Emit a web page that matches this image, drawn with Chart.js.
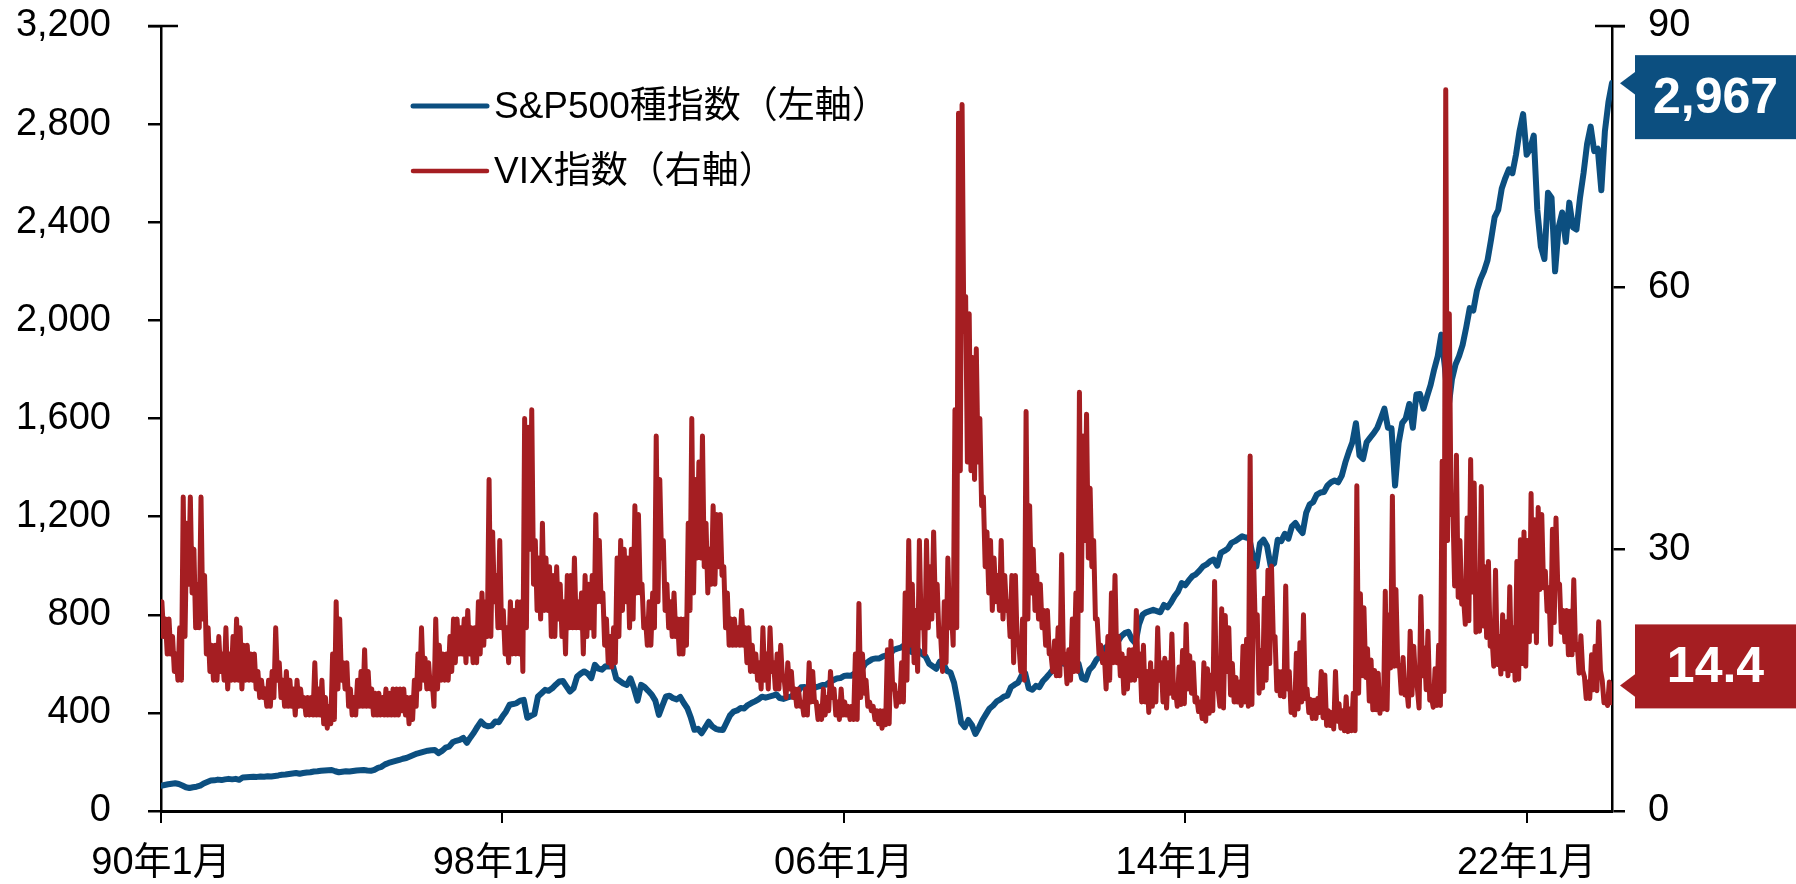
<!DOCTYPE html>
<html>
<head>
<meta charset="utf-8">
<script src="https://cdn.jsdelivr.net/npm/chart.js@4.4.1/dist/chart.umd.min.js"></script>
<style>
html,body{margin:0;padding:0;background:#ffffff;}
canvas{display:block;}
</style>
</head>
<body>
<canvas id="c" width="1796" height="884"></canvas>
<script>
// ---------- data ----------
const seriesNames = ['S&P500種指数（左軸）', 'VIX指数（右軸）'];
const xTickPositions = [0, 96, 192, 288, 384];
const xTickLabels = ['90年1月', '98年1月', '06年1月', '14年1月', '22年1月'];
const leftTickStep = 400;
const rightTickStep = 30;

// S&P500 (left axis), month-end values, Jan 1990 ... Jan 2024
const spValues = [
  103,106,109,111,113,110,104,97,94,97,99,103,
  112,118,124,125,128,126,129,131,129,131,127,137,
  138,139,140,139,141,140,142,141,143,145,148,149,
  151,153,155,152,155,157,158,161,162,164,165,166,
  167,162,158,160,162,161,163,165,166,167,165,164,
  168,176,180,190,196,200,204,208,213,216,222,228,
  234,238,242,246,248,249,236,245,258,262,280,286,
  290,298,278,300,320,344,365,350,345,348,365,362,
  385,405,433,436,440,450,453,380,388,395,467,480,
  494,490,500,515,528,530,508,487,500,548,560,569,
  560,542,596,580,576,590,589,596,540,530,520,514,
  541,500,450,514,505,490,474,450,392,430,467,470,
  460,455,465,440,419,380,331,335,317,340,364,345,
  335,331,330,360,390,405,410,420,418,432,440,447,
  455,466,462,466,470,476,460,457,462,466,475,485,
  504,505,500,495,504,508,514,515,525,533,540,542,
  550,552,551,560,571,575,600,610,619,622,622,630,
  634,640,657,662,666,676,672,648,650,655,640,630,
  600,590,580,609,600,571,565,523,447,360,342,371,
  351,314,340,371,395,418,430,447,455,466,470,505,
  515,523,552,562,500,494,510,505,530,545,562,580,
  596,605,600,610,612,616,600,541,535,575,590,616,
  630,660,671,665,640,690,712,725,730,700,684,760,
  800,810,815,820,815,810,840,830,850,875,895,929,
  920,940,957,965,980,997,1005,1018,1025,1000,1052,1060,
  1070,1093,1100,1110,1120,1115,1113,1040,997,1090,1106,1080,
  1000,1010,1106,1100,1130,1110,1160,1174,1150,1133,1215,1250,
  1260,1290,1298,1300,1327,1340,1347,1340,1366,1420,1464,1503,
  1581,1450,1435,1503,1522,1540,1562,1600,1640,1562,1560,1327,
  1500,1581,1600,1659,1562,1698,1700,1640,1690,1737,1800,1854,
  1942,1810,1640,1760,1820,1854,1900,1971,2050,2040,2120,2167,
  2200,2245,2330,2421,2450,2538,2580,2616,2600,2675,2772,2841,
  2675,2700,2753,2450,2300,2250,2520,2500,2200,2380,2440,2320,
  2480,2380,2370,2500,2600,2720,2790,2690,2700,2530,2770,2890,
  2967
];

// VIX (right axis): monthly high / low of daily closes, Jan 1990 ... Jan 2024
const vixHigh = [
  27,24,22,22,20,18,21,36,33,36,30,26,
  36,27,21,19,19,20,18,21,18,20,22,21,
  19,19,18,18,16,15,14,15,16,21,17,15,
  16,15,14,15,14,13,13,13,17,14,15,13,
  12,18,24,22,17,17,14,13,15,16,18.5,16,
  14,13.5,13.5,13,14,13.5,14,14,14,14,13,13,
  15,18,21,17.5,17,15,22,19,18,18,20,22,
  22,21,22,23,21,21,24,25,24,38,32,27,
  31,23,21,24,23,24,24,45,44,46,31,29,
  33,29,28,27,28,26,24,27,27,29,24,25,
  27,26,27,34,31,25,22,20,21,29,31,30,
  29,30,35,34,26,22,24,25,43,38,31,26,
  24,25,22,22,22,33,45,38,40,43,33,30,
  35,34,34,28,25,22,22,21,23,21,21,19,
  18,17,21,18,21,17,18,19,15,17,16,14,
  14,12.5,14,17,16,12.5,12,14,13,16,14,12.5,
  14,12.5,12,12,18,23.8,18,15,12.5,12,11.5,11.5,
  11.5,18.5,19.5,14.5,13.5,17,25,31,26,23,31,24,
  31,28,32,26,20,24,29,23,46,80,81,59,
  57,52,53,45,36,32,31,29,27,31,27,24,
  27,27,19,22,45.8,35,30,27,26,23,23,18,
  19.5,21,29.4,18,18.5,22,25,48,43,45.5,37,31,
  22,19,18,20,25,27,20,18,17.5,18.5,18.5,23,
  18,19,16,17,16,21,17,17.5,17,20.3,14,16.5,
  18.4,21.4,17.8,17,13,12.5,17,16.3,15.6,26.3,14,23.2,
  22.4,21,16.9,15.3,14.8,18.9,19.7,40.7,28.4,22.5,18.4,24.4,
  27.6,28.1,20,16,16,25.8,16,13.5,18.1,19.3,22.5,14,
  12.8,12.7,12.9,16,15.6,11.5,11.3,16,12.3,11.5,13.1,11.7,
  13.5,37.3,24.9,23.3,18.6,17.3,16.1,15.8,14,25.2,22.5,36.1,
  25.4,16.7,17.6,14.2,20.6,18.9,14.2,24.6,18.7,20.6,13,16.3,
  19,40.1,82.7,57,35,40.8,31,24.5,33.6,40.3,37.6,25,
  37.2,28,28.6,20,27.6,20,22.5,21.7,25.7,21,28.6,31.1,
  32,31,36.4,33.4,34.8,34,27.5,25.6,32.3,33.6,26,23,
  23,22.9,26.5,19.1,20.1,15.4,14.8,17.9,18.9,21.7,15,13,
  14.8
];
const vixLow = [
  20,20,18,18,16,15,15,20,26,25,21,21,
  22,18,16,15,15,16,15,14,15,15,15,14,
  15,15,15,14,13,13,12,12,13,15,13,12,
  12,12,11,12,12,11,11,11,11,11,10,9.5,
  10,10.5,14,15,14,12,11,11,12,12,12,12,
  11,11,11,11,11,11,11,11,11.5,11,10,10.5,
  12,14,15,14,14,12,14,15,15,15,16,17,
  18,18,17,18,17,17,18,19,20,20,24,21,
  21,18,17,18,18,18,16,21,30,26,23,22,
  23,23,20,20,22,20,18,21,21,21,21,18,
  20,21,20,24,24,19,17,16.5,17,20,23,24,
  21,22,25,25,21,19,19,21,24,29,23,21,
  20,20,18,18,19,23,25,29,29,28,25,26,
  26,28,27,21,19,19,19,19,19,17,16,16,
  15,14,15,14,16,14,14,15,13,14,13,12,
  12,11,11,12.5,12.5,10.5,10.5,11,11.5,13,11,10.5,
  11,11,10.5,10.5,10.5,13,13.5,12,11.5,10.5,10,9.5,
  9.9,10,14,12,12.5,12.5,15,19,17,16,21,18,
  21,22,23,20,16,17,21,19,21,39,55,40,
  39,38,40,35,28,25,23,24,23,22,23,20,
  17,19,16,15,22,25,23,22,21,19,18,16,
  15.5,15.5,17,14.6,15,16,16,23,31,29,28,22,
  18,17,14,15,17,17,15.5,13.5,14,15,15,15.5,
  12.5,12.5,11.3,12,12.5,15,12.5,11.8,13.5,13,12,12.2,
  12.3,14,13.5,12.5,11.4,10.6,10.3,11.2,11.5,14,12,11.8,
  16,13.3,12.5,12.5,12.1,12.5,12,12.2,20.1,13.5,14.1,15,
  16.9,19.9,13.8,13.2,13.1,14,11.3,11,11.7,12.5,12.9,11.3,
  10.6,10.6,11.3,10.7,9.8,9.8,9.4,10.3,9.5,9.2,9.1,9.2,
  9.2,13.5,15.5,15.3,12.6,11.6,11.6,11.2,11.7,11.6,16.4,16.6,
  16.6,13.5,13.3,12,13.3,14.9,11.8,15.5,13.9,12.7,11.9,12.1,
  12.1,13.7,31,34,25.8,24.5,23.7,21.4,21.8,25.1,20.5,20.6,
  21.2,19.9,18.9,16.6,16.8,15.7,16.3,15.5,16.1,15,15.1,16.9,
  16.6,19.4,20.6,19.3,25.4,25.6,22.9,19.1,21.6,25.8,20.5,19.4,
  17.9,17.9,18.5,15.8,16.1,12.9,12.9,13.9,13.8,16.1,12.4,12.1,
  12.4
];
const vixLast = 14.4;

// ---------- styling ----------
const BLUE = '#0C4F80';
const RED = '#A51E22';
const FONT = "'Liberation Sans', Arial, 'Noto Sans CJK JP', sans-serif";

// ---------- build datasets from the arrays ----------
const spPoints = spValues.map((v, i) => ({ x: i, y: v }));
const vixPoints = [];
const nV = Math.min(vixHigh.length, vixLow.length);
for (let k = 0; k < nV; k++) {
  vixPoints.push({ x: k - 0.75, y: vixHigh[k] });
  vixPoints.push({ x: k - 0.25, y: vixLow[k] });
}
vixPoints.push({ x: spValues.length - 1, y: vixLast });
const xMax = spValues.length - 1;

Chart.defaults.font.family = FONT;
Chart.defaults.color = '#000';

const decor = {
  id: 'decor',
  afterDraw(chart) {
    const ctx = chart.ctx;
    const ca = chart.chartArea;
    ctx.save();
    // small crossing tick segments at the top of both axes
    ctx.strokeStyle = '#000';
    ctx.lineWidth = 2.5;
    ctx.beginPath();
    ctx.moveTo(ca.left - 13, ca.top); ctx.lineTo(ca.left + 17, ca.top);
    ctx.moveTo(ca.right - 17, ca.top); ctx.lineTo(ca.right + 13, ca.top);
    ctx.stroke();

    // legend
    const lx0 = ca.left + 252, lx1 = ca.left + 326, tx = ca.left + 333;
    const rows = [ca.top + 80, ca.top + 145];
    const cols = [BLUE, RED];
    const widths = [5, 4.5];
    ctx.lineCap = 'round';
    ctx.font = '37px ' + FONT;
    ctx.textBaseline = 'middle';
    ctx.textAlign = 'left';
    for (let i = 0; i < 2; i++) {
      ctx.strokeStyle = cols[i];
      ctx.lineWidth = widths[i];
      ctx.beginPath();
      ctx.moveTo(lx0, rows[i]); ctx.lineTo(lx1, rows[i]);
      ctx.stroke();
      ctx.fillStyle = '#000';
      ctx.fillText(seriesNames[i], tx, rows[i] + 2);
    }

    // end-value labels
    const W = chart.width;
    const labels = [
      { ds: 0, color: BLUE, text: spValues[spValues.length - 1].toLocaleString('en-US'), above: 28 },
      { ds: 1, color: RED, text: vixLast.toFixed(1), above: 61 }
    ];
    labels.forEach(l => {
      const meta = chart.getDatasetMeta(l.ds);
      const el = meta.data[meta.data.length - 1];
      const py = el.y;
      const tipX = ca.right + 8;
      const bx = ca.right + 23;
      const by = py - l.above;
      const bh = 84;
      ctx.fillStyle = l.color;
      ctx.beginPath();
      ctx.moveTo(tipX, py);
      ctx.lineTo(bx + 1, py - 12);
      ctx.lineTo(bx + 1, py + 12);
      ctx.closePath();
      ctx.fill();
      ctx.fillRect(bx, by, W - bx, bh);
      ctx.fillStyle = '#fff';
      ctx.font = 'bold 50px ' + FONT;
      ctx.textAlign = 'center';
      ctx.textBaseline = 'middle';
      ctx.fillText(l.text, bx + (W - bx) / 2, by + bh / 2 + 2);
    });
    ctx.restore();
  }
};

function fitY(width) {
  return s => { s.width = width; s.paddingTop = 0; s.paddingBottom = 0; };
}

new Chart(document.getElementById('c').getContext('2d'), {
  type: 'line',
  data: {
    datasets: [
      { label: seriesNames[0], data: spPoints, yAxisID: 'y', borderColor: BLUE, backgroundColor: BLUE,
        borderWidth: 6, pointRadius: 0, tension: 0, order: 2, borderJoinStyle: 'round', borderCapStyle: 'round' },
      { label: seriesNames[1], data: vixPoints, yAxisID: 'y1', borderColor: RED, backgroundColor: RED,
        borderWidth: 5, pointRadius: 0, tension: 0, order: 1, borderJoinStyle: 'round', borderCapStyle: 'round' }
    ]
  },
  options: {
    responsive: false,
    animation: false,
    devicePixelRatio: 1,
    layout: { padding: { top: 26, left: 0, right: 0, bottom: 0 } },
    plugins: { legend: { display: false }, tooltip: { enabled: false } },
    scales: {
      x: {
        type: 'linear', min: 0, max: xMax,
        afterBuildTicks: s => { s.ticks = xTickPositions.map(v => ({ value: v })); },
        ticks: {
          autoSkip: false, maxRotation: 0, minRotation: 0, padding: 18,
          font: { size: 38 }, color: '#000',
          callback: v => { const i = xTickPositions.indexOf(v); return i >= 0 ? xTickLabels[i] : ''; }
        },
        grid: { drawOnChartArea: false, drawTicks: true, tickLength: 12, color: '#000', lineWidth: 2 },
        border: { display: true, color: '#000', width: 3 },
        afterFit: s => { s.height = 73; }
      },
      y: {
        position: 'left', min: 0, max: 3200,
        ticks: { stepSize: leftTickStep, padding: 37, font: { size: 38 }, color: '#000',
                 callback: v => Number(v).toLocaleString('en-US') },
        grid: { drawOnChartArea: false, drawTicks: true, tickLength: 13, color: '#000', lineWidth: 2.5 },
        border: { display: true, color: '#000', width: 2.5 },
        afterFit: fitY(161)
      },
      y1: {
        position: 'right', min: 0, max: 90,
        ticks: { stepSize: rightTickStep, padding: 23, font: { size: 38 }, color: '#000' },
        grid: { drawOnChartArea: false, drawTicks: true, tickLength: 13, color: '#000', lineWidth: 2.5 },
        border: { display: true, color: '#000', width: 2.5 },
        afterFit: fitY(184)
      }
    }
  },
  plugins: [decor]
});
</script>
</body>
</html>
